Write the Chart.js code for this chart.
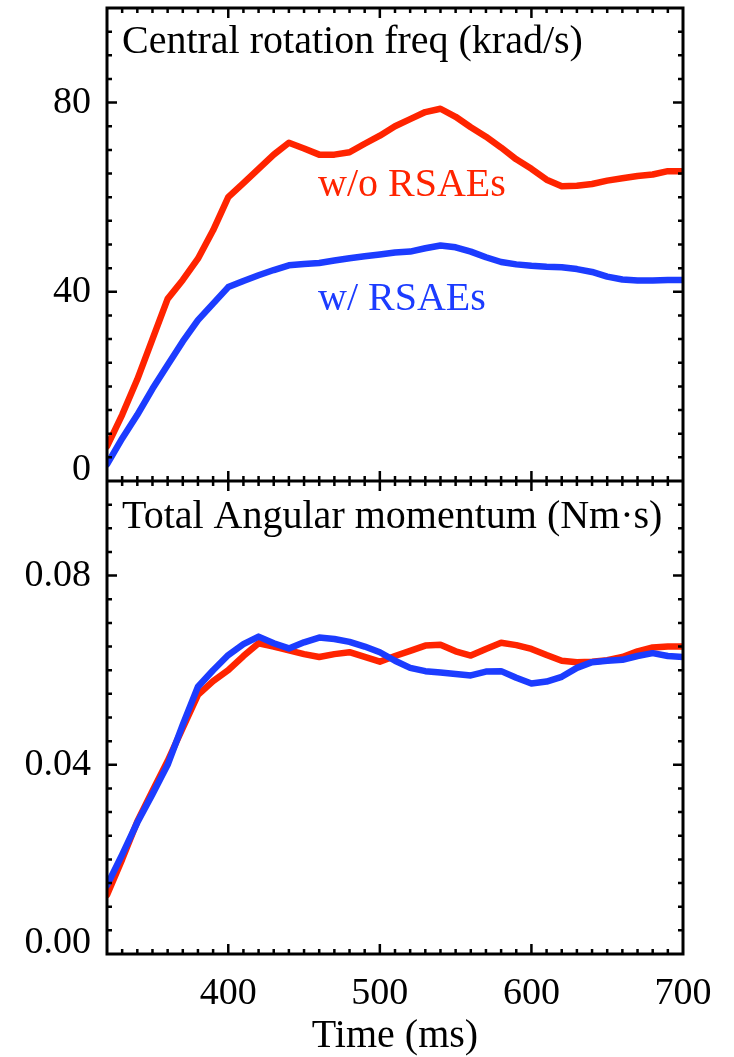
<!DOCTYPE html>
<html>
<head>
<meta charset="utf-8">
<script src="https://cdn.jsdelivr.net/npm/chart.js@4.4.1/dist/chart.umd.min.js"></script>
<style>
  html, body { margin: 0; padding: 0; background: #fff; }
  canvas { display: block; }
</style>
</head>
<body>
<canvas id="rotationChart" width="734" height="1057"></canvas>
<script>
// time axis (ms)
const times = [320, 330, 340, 350, 360, 370, 380, 390, 400, 410, 420, 430, 440, 450, 460, 470, 480, 490, 500, 510,
  520, 530, 540, 550, 560, 570, 580, 590, 600, 610, 620, 630, 640, 650, 660, 670, 680, 690, 700];

// Central rotation freq (krad/s)
const rotNoRsae = [7.3, 14, 21.5, 30, 38.5, 42.5, 47, 53, 60, 63, 66, 69, 71.5, 70.3, 69, 69, 69.5, 71.3, 73, 75,
  76.5, 78, 78.7, 77, 74.8, 72.8, 70.5, 68, 66, 63.7, 62.3, 62.4, 62.8, 63.5, 64, 64.5, 64.8, 65.5, 65.5];
const rotRsae = [3.5, 9, 14, 19.5, 24.5, 29.5, 34, 37.5, 41, 42.3, 43.5, 44.6, 45.6, 45.9, 46.1, 46.6, 47.1, 47.5, 47.9, 48.3,
  48.5, 49.2, 49.8, 49.4, 48.5, 47.3, 46.3, 45.8, 45.5, 45.3, 45.2, 44.8, 44.2, 43.2, 42.6, 42.4, 42.4, 42.5, 42.5];

// Total angular momentum (Nm·s)
const momNoRsae = [0.0125, 0.0200, 0.0280, 0.0345, 0.0408, 0.0478, 0.0548, 0.0577, 0.0600, 0.0630, 0.0657, 0.0650, 0.0642,
  0.0634, 0.0628, 0.0634, 0.0638, 0.0628, 0.0618, 0.0630, 0.0641, 0.0652, 0.0654, 0.0640, 0.0631, 0.0645, 0.0658,
  0.0653, 0.0645, 0.0632, 0.0620, 0.0617, 0.0618, 0.0621, 0.0628, 0.0640, 0.0648, 0.0650, 0.0650];
const momRsae = [0.0145, 0.0210, 0.0278, 0.0338, 0.0400, 0.0485, 0.0565, 0.0600, 0.0632, 0.0655, 0.0671, 0.0657, 0.0646,
  0.0659, 0.0669, 0.0666, 0.0660, 0.0650, 0.0638, 0.0620, 0.0605, 0.0598, 0.0595, 0.0592, 0.0589, 0.0597, 0.0598,
  0.0584, 0.0572, 0.0576, 0.0586, 0.0605, 0.0617, 0.0620, 0.0622, 0.0630, 0.0636, 0.0630, 0.0628];

const RED = '#ff2400';
const BLUE = '#1c3cff';
const SERIF = '"Liberation Serif", "Times New Roman", serif';

const pts = vals => times.map((t, i) => ({ x: t, y: vals[i] }));

// inward ticks on all sides + box frame, like the original IDL plot
const framePlugin = {
  id: 'frame',
  afterDatasetsDraw(chart) {
    const { ctx, chartArea: a, scales } = chart;
    const x = scales.x, yt = scales.yTop, yb = scales.yBot;
    ctx.save();
    ctx.strokeStyle = '#000';
    ctx.lineWidth = 2.5;
    ctx.beginPath();
    // x ticks: minor every 10, major every 100
    for (let t = 330; t < 700; t += 10) {
      const px = x.getPixelForValue(t);
      const len = t % 100 === 0 ? 10 : 5;
      ctx.moveTo(px, yt.top); ctx.lineTo(px, yt.top + len);
      ctx.moveTo(px, yt.bottom); ctx.lineTo(px, yt.bottom - len);
      ctx.moveTo(px, yb.top); ctx.lineTo(px, yb.top + len);
      ctx.moveTo(px, yb.bottom); ctx.lineTo(px, yb.bottom - len);
    }
    // y ticks: top panel minor 5, bottom panel minor 0.005, major every 8th
    for (let k = 1; k < 20; k++) {
      const len = k % 8 === 0 ? 10 : 5;
      const p1 = yt.getPixelForValue(k * 5);
      const p2 = yb.getPixelForValue(k * 0.005);
      [p1, p2].forEach(py => {
        ctx.moveTo(a.left, py); ctx.lineTo(a.left + len, py);
        ctx.moveTo(a.right, py); ctx.lineTo(a.right - len, py);
      });
    }
    ctx.stroke();
    ctx.lineWidth = 3;
    ctx.strokeRect(a.left, a.top, a.right - a.left, a.bottom - a.top);
    ctx.beginPath();
    ctx.moveTo(a.left, yt.bottom); ctx.lineTo(a.right, yt.bottom);
    ctx.stroke();

    // panel titles and curve labels
    ctx.font = '40px ' + SERIF;
    ctx.textBaseline = 'alphabetic';
    ctx.textAlign = 'left';
    ctx.fillStyle = '#000';
    ctx.fillText('Central rotation freq (krad/s)', a.left + 15, yt.top + 45);
    ctx.fillText('Total Angular momentum (Nm\u00b7s)', a.left + 15, yb.top + 47);
    ctx.fillStyle = RED;
    ctx.fillText('w/o RSAEs', 318, 196);
    ctx.fillStyle = BLUE;
    ctx.fillText('w/ RSAEs', 318, 310);
    ctx.restore();
  }
};

const yAxisBase = {
  type: 'linear',
  position: 'left',
  stack: 'panels',
  stackWeight: 1,
  grid: { display: false, drawTicks: false },
  border: { display: false },
  afterFit(scale) {
    scale.width = 107;
    scale.paddingTop = 0;
    scale.paddingBottom = 0;
  }
};

const tickFont = ctx => ({
  family: SERIF,
  size: 38,
  lineHeight: ctx.tick && ctx.tick.value === 0 ? 0.6 : 1.2
});

new Chart(document.getElementById('rotationChart'), {
  type: 'line',
  data: {
    datasets: [
      { label: 'w/ RSAEs', data: pts(rotRsae), yAxisID: 'yTop', borderColor: BLUE, order: 0 },
      { label: 'w/o RSAEs', data: pts(rotNoRsae), yAxisID: 'yTop', borderColor: RED, order: 1 },
      { label: 'w/ RSAEs', data: pts(momRsae), yAxisID: 'yBot', borderColor: BLUE, order: 0 },
      { label: 'w/o RSAEs', data: pts(momNoRsae), yAxisID: 'yBot', borderColor: RED, order: 1 }
    ]
  },
  options: {
    responsive: false,
    animation: false,
    devicePixelRatio: 1,
    layout: { padding: { top: 8, left: 0, right: 51, bottom: 0 } },
    elements: {
      point: { radius: 0 },
      line: { borderWidth: 6.5, tension: 0, borderJoinStyle: 'round', borderCapStyle: 'round' }
    },
    plugins: { legend: { display: false }, tooltip: { enabled: false } },
    scales: {
      x: {
        type: 'linear',
        min: 320, max: 700,
        grid: { display: false, drawTicks: false },
        border: { display: false },
        ticks: { stepSize: 100, includeBounds: false, padding: 17, color: '#000', font: { family: SERIF, size: 38 } },
        title: { display: true, text: 'Time (ms)', color: '#000', font: { family: SERIF, size: 40, lineHeight: 1.0 }, padding: { top: 0, bottom: 1 } },
        afterFit(scale) {
          scale.height = 103;
          scale.paddingLeft = 0;
          scale.paddingRight = 0;
        }
      },
      yBot: {
        ...yAxisBase,
        min: 0, max: 0.1,
        ticks: {
          stepSize: 0.04, includeBounds: false, padding: 16, color: '#000', font: tickFont,
          callback: v => v === 0 ? ['0.00', ''] : v.toFixed(2)
        }
      },
      yTop: {
        ...yAxisBase,
        min: 0, max: 100,
        ticks: {
          stepSize: 40, includeBounds: false, padding: 16, color: '#000', font: tickFont,
          callback: v => v === 0 ? ['0', ''] : String(v)
        }
      }
    }
  },
  plugins: [framePlugin]
});
</script>
</body>
</html>
